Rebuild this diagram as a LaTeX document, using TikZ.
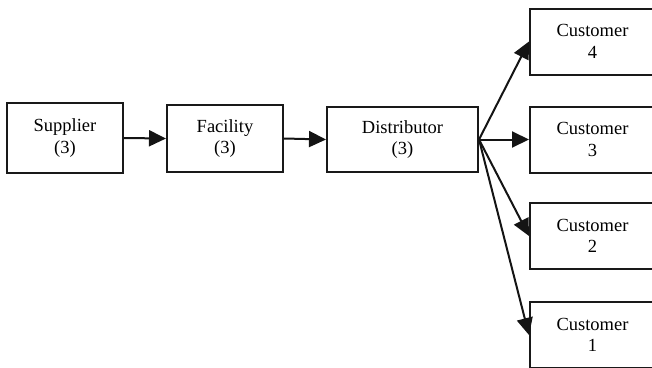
\documentclass[tikz,border=0pt]{standalone}
\usepackage{fontspec}
\setmainfont{Liberation Serif}
\usetikzlibrary{arrows.meta}
\begin{document}
\begin{tikzpicture}[x=1pt,y=-1pt,
  box/.style={draw=black!90, line width=2pt, fill=white, inner sep=0pt,
    align=center, font=\fontsize{18.5}{21.5}\selectfont},
  arr/.style={line width=2pt, -{Triangle[length=17pt,width=16pt]}, black!92}]
  \useasboundingbox (0,0) rectangle (652,367);
  % supply chain stages
  \node[box, minimum width=116pt, minimum height=70pt] (sup) at (65,138) {Supplier\\(3)};
  \node[box, minimum width=116pt, minimum height=67pt] (fac) at (225,138.5) {Facility\\(3)};
  \node[box, minimum width=151pt, minimum height=65pt] (dis) at (402.5,139.5) {Distributor\\(3)};
  % customers, running off the right edge
  \begin{scope}[every node/.append style={box, minimum width=125pt, minimum height=66pt}]
    \node (c4) at (592.5,41.5) {Customer\\4};
    \node (c3) at (592.5,139.5) {Customer\\3};
    \node (c2) at (592.5,236) {Customer\\2};
    \node (c1) at (592.5,335) {Customer\\1};
  \end{scope}
  % flows
  \draw[arr] (sup.east) -- (fac.west);
  \draw[arr] (fac.east) -- (dis.west);
  \coordinate (hub) at (dis.east);
  \draw[arr] (hub) -- (c4.west);
  \draw[arr] (hub) -- (c3.west);
  \draw[arr] (hub) -- (c2.west);
  \draw[arr] (hub) -- (c1.west);
\end{tikzpicture}
\end{document}
